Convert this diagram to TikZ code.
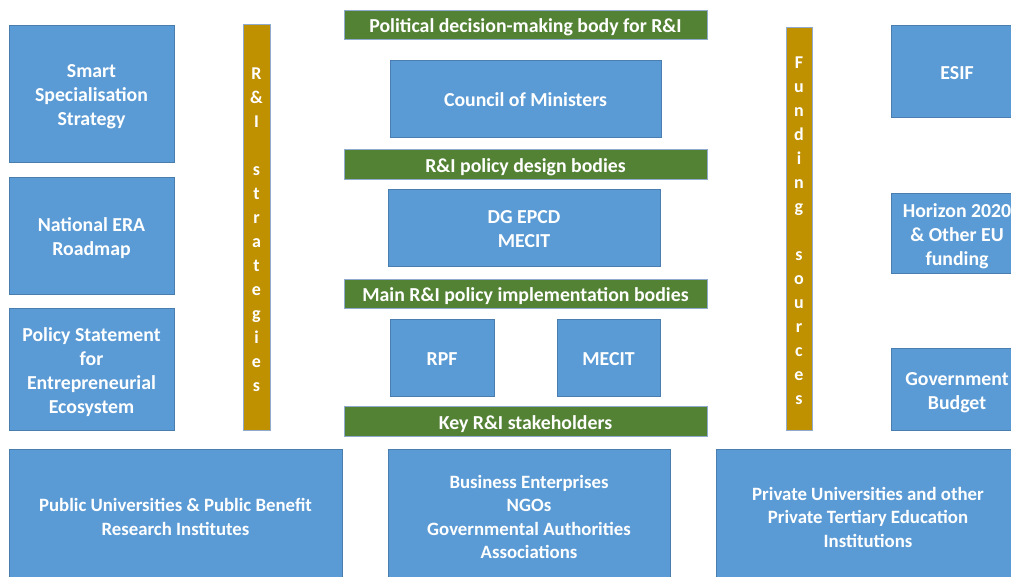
\documentclass[tikz,border=0pt]{standalone}
\usepackage{fontspec}
\setmainfont{Carlito}
\definecolor{boxblue}{HTML}{5B9BD5}
\definecolor{bordblue}{HTML}{4A7EB0}
\definecolor{boxgreen}{HTML}{548235}
\definecolor{boxgold}{HTML}{BF9000}
\definecolor{barbord}{HTML}{8FAACC}
\newcommand\tx[1]{\raisebox{-3.5pt}[\height][\depth]{\begin{tabular}{@{}c@{}}#1\end{tabular}}}
\begin{document}
\begin{tikzpicture}[x=1pt,y=-1pt,
  base/.style={line width=0.8pt, text=white, inner sep=0pt,
    font=\bfseries\fontsize{19.8}{24}\selectfont},
  bluebox/.style={base, draw=bordblue, fill=boxblue},
  lowbox/.style={bluebox, font=\bfseries\fontsize{18.8}{23.5}\selectfont},
  greenbar/.style={base, draw=barbord, fill=boxgreen},
  goldbar/.style={base, draw=barbord, fill=boxgold, font=\bfseries\fontsize{18}{24}\selectfont},
]
\clip (0,0) rectangle (1011,576);
\fill[white] (0,0) rectangle (1011,576);
% left strategies
\node[bluebox, minimum width=165pt, minimum height=137pt] (ss) at (91.5,93.5) {\tx{Smart\\Specialisation\\Strategy}};
\node[bluebox, minimum width=165pt, minimum height=117pt] (era) at (91.5,235.5) {\tx{National ERA\\Roadmap}};
\node[bluebox, minimum width=165pt, minimum height=122pt] (ps) at (91.5,369) {\tx{Policy Statement\\for\\Entrepreneurial\\Ecosystem}};
\node[goldbar, minimum width=27pt, minimum height=406pt] (strat) at (256.5,227) {\tx{R\\\&\\I\\\mbox{}\\s\\t\\r\\a\\t\\e\\g\\i\\e\\s}};
% centre column
\node[greenbar, minimum width=363pt, minimum height=29pt] (pol) at (525.5,24.5) {\tx{Political decision-making body for R\&I}};
\node[bluebox, minimum width=271pt, minimum height=77pt] (com) at (525.5,98.5) {\tx{Council of Ministers}};
\node[greenbar, minimum width=363pt, minimum height=30pt] (des) at (525.5,164) {\tx{R\&I policy design bodies}};
\node[bluebox, minimum width=272pt, minimum height=77pt] (dg) at (524,227.5) {\tx{DG EPCD\\MECIT}};
\node[greenbar, minimum width=363pt, minimum height=29pt] (imp) at (525.5,293.5) {\tx{Main R\&I policy implementation bodies}};
\node[bluebox, minimum width=104pt, minimum height=77pt] (rpf) at (442,357.5) {\tx{RPF}};
\node[bluebox, minimum width=103pt, minimum height=77pt] (mec) at (608.5,357.5) {\tx{MECIT}};
\node[greenbar, minimum width=363pt, minimum height=30pt] (key) at (525.5,421) {\tx{Key R\&I stakeholders}};
% funding
\node[goldbar, minimum width=26pt, minimum height=403pt] (fund) at (799,228.5) {\tx{F\\u\\n\\d\\i\\n\\g\\\mbox{}\\s\\o\\u\\r\\c\\e\\s}};
\node[bluebox, minimum width=132pt, minimum height=92pt] (esif) at (957,71) {\tx{ESIF}};
\node[bluebox, minimum width=132pt, minimum height=80pt] (hor) at (957,233) {\tx{Horizon 2020\\\& Other EU\\funding}};
\node[bluebox, minimum width=132pt, minimum height=82pt] (gov) at (957,389) {\tx{Government\\Budget}};
% bottom stakeholders
\node[lowbox, minimum width=333pt, minimum height=133pt] (pub) at (175.5,515.5) {\tx{Public Universities \& Public Benefit\\Research Institutes}};
\node[lowbox, minimum width=282pt, minimum height=133pt] (bus) at (529,515.5) {\tx{Business Enterprises\\NGOs\\Governmental Authorities\\Associations}};
\node[lowbox, minimum width=304pt, minimum height=133pt] (priv) at (868,515.5) {\tx{Private Universities and other\\Private Tertiary Education\\Institutions}};
\end{tikzpicture}
\end{document}
